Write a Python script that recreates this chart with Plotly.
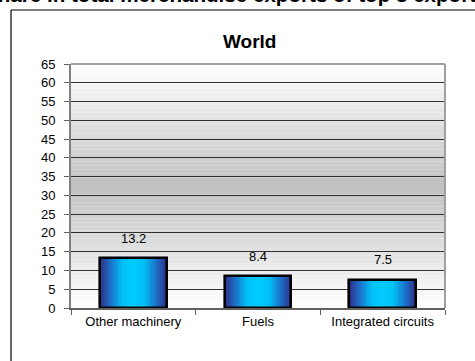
import plotly.graph_objects as go

categories = ["Other machinery", "Fuels", "Integrated circuits"]
values = [13.2, 8.4, 7.5]
value_labels = ["13.2", "8.4", "7.5"]
y_ticks = list(range(0, 70, 5))
chart_title = "World"
page_title = "Share in total merchandise exports of top 3 exports"

W, H = 475, 361
L, R, T, B = 71, 445, 64, 308
FONT = "Liberation Sans, Arial, sans-serif"


def px(x):
    return (x - L) / (R - L)


def py(y):
    return (B - y) / (B - T)


def lerp(c1, c2, t):
    return tuple(round(a + (b - a) * t) for a, b in zip(c1, c2))


def bar_color(d):
    stops = [(0.0, (0, 204, 255)), (0.35, (0, 192, 246)), (0.7, (28, 112, 200)), (1.0, (46, 50, 140))]
    for (d0, c0), (d1, c1) in zip(stops, stops[1:]):
        if d <= d1:
            return "rgb(%d,%d,%d)" % lerp(c0, c1, (d - d0) / (d1 - d0))
    return "rgb(%d,%d,%d)" % stops[-1][1]


fig = go.Figure()
BW = 0.535
N = 24
for k in range(N):
    d = 1 - k / N
    fig.add_trace(go.Bar(x=categories, y=values, width=BW * d,
                         marker=dict(color=bar_color(d), line=dict(width=0)),
                         hoverinfo="skip", showlegend=False))
fig.add_trace(go.Bar(x=categories, y=values, width=BW,
                     marker=dict(color="rgba(0,0,0,0)", line=dict(color="black", width=2.6)),
                     hoverinfo="skip", showlegend=False))

shapes = []
S = 60
for i in range(S):
    t = (i + 0.5) / S
    g = round(192 + (255 - 192) * abs(t - 0.5) * 2)
    shapes.append(dict(type="rect", xref="paper", yref="paper", x0=0, x1=1,
                       y0=i / S, y1=(i + 1) / S, layer="below",
                       fillcolor="rgb(%d,%d,%d)" % (g, g, g), line=dict(width=0)))
# outer frame lines
shapes.append(dict(type="line", xref="paper", yref="paper", x0=px(11), x1=px(11),
                   y0=py(10), y1=py(400), line=dict(color="black", width=1.2)))
shapes.append(dict(type="line", xref="paper", yref="paper", x0=px(11), x1=px(500),
                   y0=py(10), y1=py(10), line=dict(color="black", width=1.2)))
# right and top plot border
shapes.append(dict(type="line", xref="paper", yref="paper", x0=1, x1=1, y0=0, y1=1,
                   line=dict(color="#a0a0a0", width=2)))
shapes.append(dict(type="line", xref="paper", yref="paper", x0=0, x1=1, y0=1, y1=1,
                   line=dict(color="#a0a0a0", width=2)))

annotations = [dict(x=c, y=v, text=t, showarrow=False, yshift=20, yanchor="middle",
                    font=dict(family=FONT, size=13, color="black"))
               for c, v, t in zip(categories, values, value_labels)]
annotations.append(dict(xref="paper", yref="paper", x=px(249.5), y=py(41.5), text="<b>%s</b>" % chart_title,
                        showarrow=False, xanchor="center", yanchor="middle",
                        font=dict(family=FONT, size=19, color="black")))
annotations.append(dict(xref="paper", yref="paper", x=px(-18.2), y=py(-5), text="<b>%s</b>" % page_title,
                        showarrow=False, xanchor="left", yanchor="middle",
                        font=dict(family=FONT, size=20.6, color="black")))

fig.update_layout(
    width=W, height=H,
    margin=dict(l=L, r=W - R, t=T, b=H - B, pad=0),
    paper_bgcolor="white", plot_bgcolor="white",
    barmode="overlay", bargap=0,
    shapes=shapes, annotations=annotations,
    font=dict(family=FONT, size=13, color="black"),
    xaxis=dict(type="category", tickson="boundaries", ticks="outside", ticklen=5,
               tickcolor="#606060", tickwidth=1, showgrid=False,
               showline=True, linecolor="#606060", linewidth=2, mirror=False,
               tickfont=dict(family=FONT, size=13, color="black"), fixedrange=True),
    yaxis=dict(range=[0, 65], tickvals=y_ticks, ticks="outside", ticklen=5,
               tickcolor="#606060", tickwidth=1, showgrid=True, gridcolor="#303030",
               gridwidth=1, zeroline=False, showline=True, linecolor="#808080",
               linewidth=2, tickfont=dict(family=FONT, size=13, color="black"),
               ticklabelstandoff=6, fixedrange=True),
)

fig.write_html("out.html", config={"displayModeBar": False},
               post_script="document.body.style.margin='0';")
